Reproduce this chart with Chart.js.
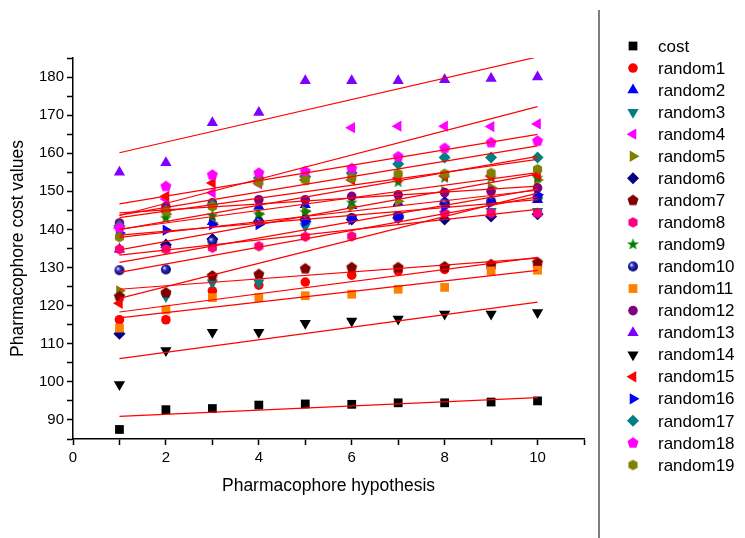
<!DOCTYPE html>
<html>
<head>
<meta charset="utf-8">
<script src="https://cdn.jsdelivr.net/npm/chart.js@4.4.0/dist/chart.umd.min.js"></script>
<style>
    html, body { margin: 0; padding: 0; background: #fff; }
</style>
</head>
<body>
<canvas id="myChart" width="745" height="538"></canvas>
<script>
// x values (hypothesis number)
const hypotheses = [1, 2, 3, 4, 5, 6, 7, 8, 9, 10];

const seriesNames = ['cost', 'random1', 'random2', 'random3', 'random4', 'random5', 'random6',
    'random7', 'random8', 'random9', 'random10', 'random11', 'random12', 'random13',
    'random14', 'random15', 'random16', 'random17', 'random18', 'random19'];

// values
const cost     = [87.5, 92.7, 93.0, 93.9, 94.2, 94.1, 94.5, 94.5, 94.7, 95.0];
const random1  = [116.3, 116.3, 123.9, 125.4, 126.2, 128.0, 129.1, 129.5, 130.0, 130.3];
const random2  = [134.8, 136.0, 142.0, 146.0, 146.5, 146.2, 147.0, 147.4, 147.4, 147.8];
const random3  = [122.0, 122.4, 126.0, 126.0, 140.8, 143.0, 143.5, 144.0, 144.8, 144.8];
const random4  = [140.4, 148.0, 149.6, 152.0, 154.0, 166.7, 167.1, 167.1, 167.0, 167.7];
const random5  = [123.9, 144.0, 141.7, 144.0, 144.8, 146.0, 147.4, 150.0, 151.0, 153.0];
const random6  = [112.6, 136.0, 137.5, 142.1, 142.6, 142.6, 143.0, 142.6, 143.4, 144.0];
const random7  = [122.4, 123.4, 127.8, 128.2, 129.7, 130.0, 130.0, 130.2, 130.8, 131.3];
const random8  = [134.8, 134.8, 135.2, 135.6, 138.1, 138.2, 143.0, 144.3, 144.3, 144.3];
const random9  = [140.0, 143.0, 143.6, 143.9, 144.5, 147.0, 152.4, 153.5, 153.5, 153.5];
const random10 = [129.3, 129.5, 137.0, 142.0, 142.5, 143.0, 143.5, 147.0, 147.4, 148.5];
const random11 = [114.1, 118.9, 122.1, 122.1, 122.6, 123.0, 124.3, 124.8, 129.1, 129.3];
const random12 = [141.7, 146.0, 147.0, 147.8, 147.8, 148.7, 149.1, 149.7, 150.0, 150.9];
const random13 = [155.0, 157.5, 168.0, 170.7, 179.0, 179.0, 179.0, 179.3, 179.6, 180.0];
const random14 = [99.3, 108.2, 113.0, 113.0, 115.4, 116.0, 116.5, 117.8, 117.8, 118.2];
const random15 = [120.6, 148.7, 152.2, 152.5, 153.0, 153.0, 153.5, 154.0, 154.0, 154.3];
const random16 = [139.1, 139.8, 141.3, 141.3, 142.0, 142.6, 143.5, 146.0, 147.0, 149.1];
const random17 = [141.0, 145.0, 146.5, 153.5, 153.8, 154.8, 157.2, 158.9, 158.9, 158.9];
const random18 = [140.4, 151.3, 154.3, 154.8, 155.2, 156.0, 159.1, 161.3, 162.8, 163.2];
const random19 = [138.0, 144.8, 146.0, 152.4, 153.0, 153.5, 154.6, 154.6, 154.8, 155.8];

const seriesValues = [cost, random1, random2, random3, random4, random5, random6, random7,
    random8, random9, random10, random11, random12, random13, random14, random15,
    random16, random17, random18, random19];

// custom marker images (pentagon, hexagon, star, ball)
function polygonMarker(color, sides, radius, innerRadius) {
    const size = Math.ceil(radius * 2 + 2);
    const c = document.createElement('canvas');
    c.width = size; c.height = size;
    const g = c.getContext('2d');
    const n = innerRadius ? sides * 2 : sides;
    g.beginPath();
    for (let i = 0; i < n; i++) {
        const a = -Math.PI / 2 + i * 2 * Math.PI / n;
        const r = innerRadius && i % 2 ? innerRadius : radius;
        g.lineTo(size / 2 + Math.cos(a) * r, size / 2 + Math.sin(a) * r);
    }
    g.closePath();
    g.fillStyle = color;
    g.fill();
    return c;
}

function ballMarker(radius) {
    const size = Math.ceil(radius * 2 + 2);
    const c = document.createElement('canvas');
    c.width = size; c.height = size;
    const g = c.getContext('2d');
    const m = size / 2;
    const grad = g.createRadialGradient(m - radius * 0.35, m - radius * 0.35, 0.5, m, m, radius);
    grad.addColorStop(0, '#d8d8ff');
    grad.addColorStop(0.35, '#3030c0');
    grad.addColorStop(1, '#000070');
    g.beginPath();
    g.arc(m, m, radius, 0, Math.PI * 2);
    g.fillStyle = grad;
    g.fill();
    return c;
}

const markers = [
    { color: '#000000', style: 'rect', radius: 6.2 },
    { color: '#FF0000', style: 'circle', radius: 4.8 },
    { color: '#0000FF', style: 'triangle', radius: 6.5 },
    { color: '#008080', style: 'triangle', rotation: 180, radius: 6.5 },
    { color: '#FF00FF', style: 'triangle', rotation: 270, radius: 6.5 },
    { color: '#808000', style: 'triangle', rotation: 90, radius: 6.5 },
    { color: '#000080', style: 'rectRot', radius: 6 },
    { color: '#800000', style: polygonMarker('#800000', 5, 5.8) },
    { color: '#FF0080', style: polygonMarker('#FF0080', 6, 5.3) },
    { color: '#008000', style: polygonMarker('#008000', 5, 6.2, 2.6) },
    { color: '#000080', style: ballMarker(5) },
    { color: '#FF8000', style: 'rect', radius: 6.2 },
    { color: '#800080', style: 'circle', radius: 4.8 },
    { color: '#8000FF', style: 'triangle', radius: 6.5 },
    { color: '#000000', style: 'triangle', rotation: 180, radius: 6.5 },
    { color: '#FF0000', style: 'triangle', rotation: 270, radius: 6.5 },
    { color: '#0000FF', style: 'triangle', rotation: 90, radius: 6.5 },
    { color: '#008080', style: 'rectRot', radius: 6 },
    { color: '#FF00FF', style: polygonMarker('#FF00FF', 5, 5.8) },
    { color: '#808000', style: polygonMarker('#808000', 6, 5.3) }
];

function linearFit(xs, ys) {
    const n = xs.length;
    const mx = xs.reduce((a, b) => a + b, 0) / n;
    const my = ys.reduce((a, b) => a + b, 0) / n;
    let sxy = 0, sxx = 0;
    for (let i = 0; i < n; i++) {
        sxy += (xs[i] - mx) * (ys[i] - my);
        sxx += (xs[i] - mx) * (xs[i] - mx);
    }
    const slope = sxy / sxx;
    return { slope: slope, intercept: my - slope * mx };
}

const datasets = [];

seriesValues.forEach((values, i) => {
    const m = markers[i];
    datasets.push({
        label: seriesNames[i],
        data: hypotheses.map((x, j) => ({ x: x, y: values[j] })),
        pointStyle: m.style,
        pointRotation: m.rotation || 0,
        pointRadius: m.radius || 5,
        pointBackgroundColor: m.color,
        pointBorderColor: m.color,
        pointBorderWidth: 0,
        showLine: false,
        order: 100 - i
    });
});

// red linear fit line for every series
seriesValues.forEach((values, i) => {
    const fit = linearFit(hypotheses, values);
    const x0 = hypotheses[0];
    const x1 = hypotheses[hypotheses.length - 1];
    datasets.push({
        label: seriesNames[i] + ' fit',
        data: [
            { x: x0, y: fit.intercept + fit.slope * x0 },
            { x: x1, y: fit.intercept + fit.slope * x1 }
        ],
        showLine: true,
        borderColor: '#FF0000',
        borderWidth: 1.2,
        pointRadius: 0,
        order: -1
    });
});

const legendPlugin = {
    id: 'sideLegend',
    afterDraw(chart) {
        const ctx = chart.ctx;
        ctx.save();
        // separator line
        ctx.strokeStyle = '#555';
        ctx.lineWidth = 1.5;
        ctx.beginPath();
        ctx.moveTo(599, 10);
        ctx.lineTo(599, 538);
        ctx.stroke();

        ctx.font = '17px "Liberation Sans", Arial, sans-serif';
        ctx.textBaseline = 'middle';
        ctx.textAlign = 'left';
        seriesNames.forEach((name, i) => {
            const m = markers[i];
            const y = 46 + i * 22.05;
            ctx.fillStyle = m.color;
            ctx.strokeStyle = m.color;
            Chart.helpers.drawPoint(ctx, {
                pointStyle: m.style,
                rotation: m.rotation || 0,
                radius: m.radius || 5,
                borderWidth: 0
            }, 633, y);
            ctx.fillStyle = '#000';
            ctx.fillText(name, 658, y + 1);
        });
        ctx.restore();
    }
};

const axisFont = { family: '"Liberation Sans", Arial, sans-serif', size: 15 };
const titleFont = { family: '"Liberation Sans", Arial, sans-serif', size: 17.5 };

const config = {
    type: 'scatter',
    data: { datasets: datasets },
    options: {
        responsive: false,
        animation: false,
        devicePixelRatio: 1,
        layout: { padding: { top: 58, right: 161, bottom: 0, left: 0 } },
        plugins: {
            legend: { display: false },
            tooltip: { enabled: false }
        },
        scales: {
            x: {
                type: 'linear',
                min: 0,
                max: 11,
                afterFit(scale) {
                    scale.height = 99;
                    scale.paddingLeft = 0;
                    scale.paddingRight = 0;
                },
                ticks: {
                    stepSize: 1,
                    autoSkip: false,
                    maxRotation: 0,
                    color: '#000',
                    font: axisFont,
                    padding: 4,
                    callback: (v) => (v % 2 === 0 ? v : '')
                },
                grid: {
                    drawOnChartArea: false,
                    drawTicks: true,
                    tickLength: 6,
                    tickWidth: 1.5,
                    color: '#000'
                },
                border: { color: '#000', width: 1.5 },
                title: {
                    display: true,
                    text: 'Pharmacophore hypothesis',
                    color: '#000',
                    font: titleFont,
                    padding: { top: 4, bottom: 41 }
                }
            },
            y: {
                type: 'linear',
                min: 85,
                max: 185,
                afterFit(scale) {
                    scale.width = 73;
                    scale.paddingTop = 0;
                    scale.paddingBottom = 0;
                },
                ticks: {
                    stepSize: 5,
                    autoSkip: false,
                    color: '#000',
                    font: axisFont,
                    padding: 3,
                    callback: (v) => (v % 10 === 0 ? v : '')
                },
                grid: {
                    drawOnChartArea: false,
                    drawTicks: true,
                    tickLength: 6,
                    tickWidth: 1.5,
                    color: '#000'
                },
                border: { color: '#000', width: 1.5 },
                title: {
                    display: true,
                    text: 'Pharmacophore cost values',
                    color: '#000',
                    font: titleFont,
                    padding: { top: 8, bottom: 4 }
                }
            }
        }
    },
    plugins: [legendPlugin]
};

const ctx = document.getElementById('myChart').getContext('2d');
const myChart = new Chart(ctx, config);
</script>
</body>
</html>
